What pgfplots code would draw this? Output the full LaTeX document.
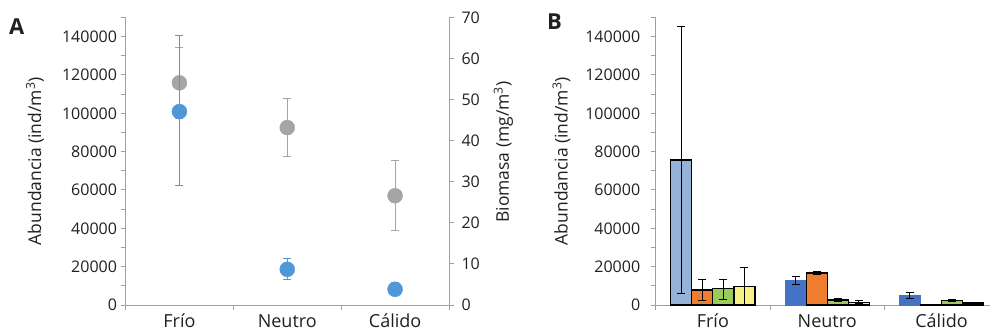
\documentclass[border=0pt]{standalone}
\usepackage{pgfplots}
\pgfplotsset{compat=1.18}
\usepackage{fontspec}
\setmainfont{Open Sans}
\definecolor{axgray}{HTML}{A0A0A0}
\definecolor{txt}{HTML}{231F20}
\definecolor{ptblue}{HTML}{4F97D8}
\definecolor{ptgray}{HTML}{A5A5A5}
\definecolor{lblue}{HTML}{95B3D7}
\definecolor{dblue}{HTML}{4472C4}
\definecolor{orng}{HTML}{EE7D2F}
\definecolor{lgreen}{HTML}{9BCB5A}
\definecolor{lyellow}{HTML}{F8F18A}
\pgfplotsset{
  base/.style={
    scale only axis, height=287.5bp,
    xmin=-0.5, xmax=2.5,
    tick align=outside,
    major tick length=5bp, minor tick length=5bp,
    every tick/.style={axgray, line width=1bp},
    axis line style={axgray, line width=1bp, -},
    /pgf/number format/assume math mode=true,
    /pgf/number format/.cd, fixed, set thousands separator={},
    /pgfplots/.cd,
    scaled y ticks=false,
    yticklabel style={font=\fontsize{16bp}{16bp}\selectfont, text=txt},
    xticklabel style={font=\fontsize{18bp}{18bp}\selectfont, text=txt, yshift=-8bp, inner sep=1bp},
    every axis y label/.style={rotate=90, anchor=center, font=\fontsize{17.5bp}{17.5bp}\selectfont, text=txt},
  },
  sep/.style={
    xtick={-0.5,0.5,1.5,2.5}, xticklabels={},
    extra x ticks={0,1,2}, extra x tick labels={Frío,Neutro,Cálido},
    extra x tick style={major tick length=0pt},
  },
  eb/.style={error bars/.cd, y dir=both, y explicit,
    error bar style={#1, line width=1bp},
    error mark options={rotate=90, #1, mark size=4bp, line width=1bp}},
  bb/.style={ybar, bar shift=0pt, bar width=0.184, draw=black, line width=1.2bp, fill=#1},
}
\begin{document}
\begin{tikzpicture}
\useasboundingbox (0bp,0bp) rectangle (990bp,335bp);
% ---------- Panel A: right axis (biomasa) ----------
\begin{axis}[base, at={(125.5bp,30bp)}, anchor=south west, width=323.5bp,
  ymin=0, ymax=70, ytick={0,10,...,70},
  axis x line=none, axis y line*=right,
  yticklabel style={xshift=4bp},
  ylabel={Biomasa (mg/m\textsuperscript{3})},
  ylabel style={at={(axis description cs:1.1685,0.532)}},
  clip=false]
\addplot[only marks, mark=*, mark size=7.5bp, color=ptgray, eb=ptgray]
  coordinates {(0,54.1) += (0,8.7) -= (0,8.7)
               (1,43.2) += (0,7.1) -= (0,7.0)
               (2,26.6) += (0,8.6) -= (0,8.4)};
\end{axis}
% ---------- Panel A: left axis (abundancia) ----------
\begin{axis}[base, sep, at={(125.5bp,30bp)}, anchor=south west, width=323.5bp,
  ymin=0, ymax=150000,
  ytick={0,20000,...,140000}, minor ytick={10000,30000,...,150000},
  axis x line*=bottom, axis y line*=left,
  ylabel={Abundancia (ind/m\textsuperscript{3})},
  ylabel style={at={(axis description cs:-0.2797,0.50)}},
  clip=false]
\addplot[only marks, mark=*, mark size=7.5bp, color=ptblue, eb=ptblue]
  coordinates {(0,100900) += (0,39500) -= (0,38300)
               (1,18600) += (0,5800) -= (0,5200)
               (2,8200) += (0,3400) -= (0,3000)};
\end{axis}
% ---------- Panel B ----------
\begin{axis}[base, sep, at={(655.7bp,30bp)}, anchor=south west, width=343bp,
  ymin=0, ymax=150000,
  ytick={0,20000,...,140000}, minor ytick={10000,30000,...,150000},
  axis x line*=bottom, axis y line*=left,
  yticklabel style={xshift=-7bp},
  ylabel={Abundancia (ind/m\textsuperscript{3})},
  ylabel style={at={(axis description cs:-0.2746,0.50)}},
  clip=false]
% Frio
\addplot[bb=lblue, eb=black] coordinates {(-0.276,75700) += (0,69500) -= (0,69600)};
\addplot[bb=orng, eb=black] coordinates {(-0.092,7800) += (0,5600) -= (0,5200)};
\addplot[bb=lgreen, eb=black] coordinates {(0.092,8400) += (0,4800) -= (0,5300)};
\addplot[bb=lyellow, eb=black] coordinates {(0.276,9600) += (0,10200) -= (0,9600)};
% Neutro
\addplot[bb=dblue, draw=dblue, eb=black] coordinates {(0.724,12700) += (0,2400) -= (0,1800)};
\addplot[bb=orng, eb=black] coordinates {(0.908,16700) += (0,900) -= (0,700)};
\addplot[bb=lgreen, eb=black] coordinates {(1.092,2600) += (0,900) -= (0,900)};
\addplot[bb=lyellow, eb=black] coordinates {(1.276,1500) += (0,700) -= (0,600)};
% Calido
\addplot[bb=dblue, draw=dblue, eb=black] coordinates {(1.724,4900) += (0,1400) -= (0,1300)};
\addplot[bb=orng] coordinates {(1.908,300)};
\addplot[bb=lgreen, eb=black] coordinates {(2.092,2200) += (0,700) -= (0,500)};
\addplot[bb=lyellow, eb=black] coordinates {(2.276,1000) += (0,300) -= (0,300)};
\end{axis}
\node[anchor=base west, font=\fontsize{22bp}{22bp}\bfseries\selectfont, text=txt, inner sep=0pt] at (9bp,300bp) {A};
\node[anchor=base west, font=\fontsize{22bp}{22bp}\bfseries\selectfont, text=txt, inner sep=0pt] at (547bp,305bp) {B};
\end{tikzpicture}
\end{document}
